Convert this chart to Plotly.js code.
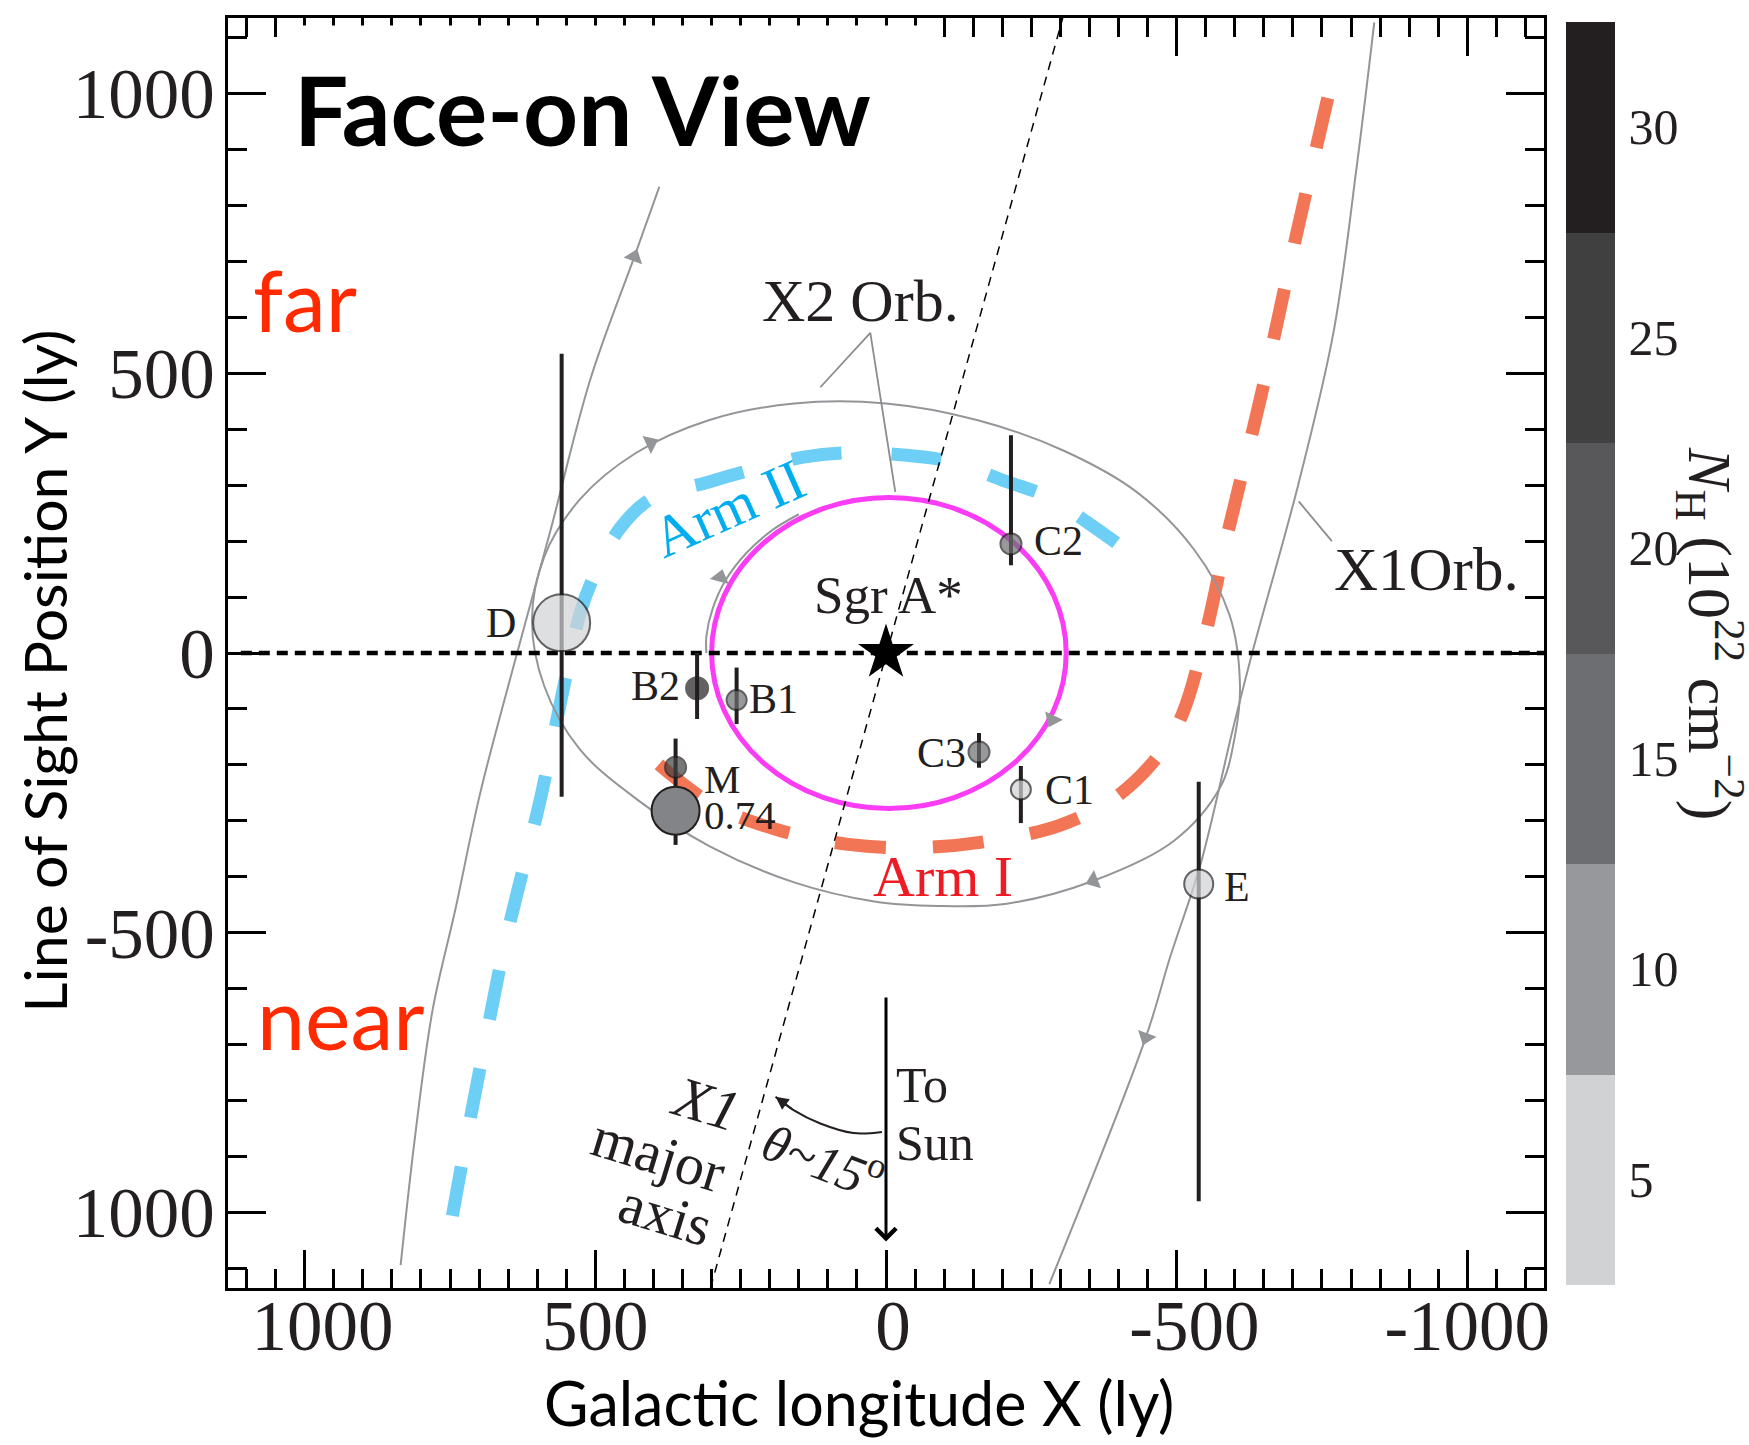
<!DOCTYPE html>
<html><head><meta charset="utf-8">
<script src="https://cdn.plot.ly/plotly-3.0.1.min.js"></script>
<style>html,body{margin:0;padding:0;background:#fff;}#chart{width:1749px;height:1445px;}</style>
</head><body><div id="chart"></div>
<script>
// ---------------- values ----------------
const sourceNames = ['D', 'B2', 'B1', 'M', 'C2', 'C3', 'C1', 'E'];
const sourceX = [558, 325, 257, 362, -215, -160, -232, -538];
const sourceY = [54, -63, -84, -204, 195, -177, -244, -413];
const sourceErrPlus = [481, 63, 58, 51, 194, 34, 42, 183];
const sourceErrMinus = [311, 55, 43, 35, 38, 28, 60, 567];
const sourceNH = [5, 30, 15, 25, 17, 15, 5, 5];

const cloud074Name = ['0.74'];
const cloud074X = [362];
const cloud074Y = [-282];
const cloud074ErrPlus = [43];
const cloud074ErrMinus = [61];

const sgrAX = [0];
const sgrAY = [0];

const arm1X = [-760, -702, -645, -587, -549, -510, -472, -395, -299, -165, -50, 65, 180, 296, 392];
const arm1Y = [992, 729, 459, 210, 31, -109, -179, -258, -308, -338, -348, -342, -318, -272, -198];

const arm2X = [746, 719, 689, 658, 629, 595, 567, 550, 526, 504, 457, 402, 311, 233, 142, 58, -30, -116, -200, -279, -350, -396];
const arm2Y = [-1006, -853, -692, -531, -406, -263, -123, -39, 72, 134, 224, 277, 304, 327, 350, 358, 354, 341, 309, 279, 231, 197];

const x1OrbLeftX = [835, 811, 780, 741, 698, 638, 577, 509, 433, 390];
const x1OrbLeftY = [-1094, -871, -638, -459, -250, -13, 220, 488, 708, 833];
const x1OrbRightX = [-840, -810, -770, -709, -630, -597, -541, -489, -447, -281];
const x1OrbRightY = [1127, 871, 574, 300, 0, -135, -378, -543, -687, -1128];

const x2OrbX = [-609, -600, -575, -495, -357, -208, -90, 20, 158, 304, 428, 527, 588, 609, 588, 527, 431, 305, 158, 0, -158, -305, -431, -530, -591, -609];
const x2OrbY = [-59, -150, -240, -336, -407, -448, -452, -444, -410, -345, -262, -172, -59, 59, 172, 274, 357, 416, 446, 446, 416, 362, 288, 185, 68, -59];

const x2InnerArcX = [309, 309, 298, 276, 239, 195, 150];
const x2InnerArcY = [0, 30, 80, 130, 180, 220, 248];

const x2EllipseX = [300, -310];
const x2EllipseY = [-278, 278];

const majorAxisX = [302, -304];
const majorAxisY = [-1135, 1135];
const losLineX = [1110, -1132];
const losLineY = [0, 0];

const sunArrowX = [0, 0];
const sunArrowY = [-613, -1052];
const thetaArcX = [7, 56, 113, 159, 190];
const thetaArcY = [-856, -858, -841, -817, -793];

const x2PointerX = [113, 27, -16];
const x2PointerY = [475, 572, 288];
const x1PointerX = [-710, -767];
const x1PointerY = [271, 200];

const orbitArrowX = [405, -357, 285, -286, 433, -447];
const orbitArrowY = [375, -407, 135, -119, 708, -687];
const orbitArrowDir = [65, 249, 15, 205, 20, 200];

const nhTickVals = [5, 10, 15, 20, 25, 30];
const xTickVals = [1000, 500, 0, -500, -1000];
const xTickText = ['\u00a0\u00a01000', '500', '\u20090', '\u00a0\u00a0-500', '-1000'];
const yTickVals = [-1000, -500, 0, 500, 1000];
const yTickText = ['1000', '-500', '0', '500', '1000'];

// ---------------- styling ----------------
const SERIF = 'Liberation Serif, Times New Roman, serif';
const SANS = 'Lato, Open Sans, sans-serif';
const INK = '#231f20';
const GREY = '#939598';
const bandColors = ['#d1d2d4', '#97989b', '#6d6e71', '#58585a', '#404041', '#231f20'];
const cmin = 2.5, cmax = 32.5;
const colorscale = [];
bandColors.forEach((c, i) => { colorscale.push([i / 6, c]); colorscale.push([(i + 1) / 6, c]); });
const markerSize = {D: 57, B2: 22, B1: 20, M: 21, C2: 21, C3: 21, C1: 20, E: 29};

const traces = [];
traces.push({x: arm2X, y: arm2Y, mode: 'lines', line: {color: '#6dcff6', width: 13, dash: '50px,50px', shape: 'spline'}, hoverinfo: 'skip'});
traces.push({x: arm1X, y: arm1Y, mode: 'lines', line: {color: '#f27656', width: 13, dash: '51px,47px', shape: 'spline'}, hoverinfo: 'skip'});
traces.push({x: x1OrbLeftX, y: x1OrbLeftY, mode: 'lines', line: {color: GREY, width: 2, shape: 'spline'}, hoverinfo: 'skip'});
traces.push({x: x1OrbRightX, y: x1OrbRightY, mode: 'lines', line: {color: GREY, width: 2, shape: 'spline'}, hoverinfo: 'skip'});
traces.push({x: x2OrbX, y: x2OrbY, mode: 'lines', line: {color: GREY, width: 2, shape: 'spline'}, hoverinfo: 'skip'});
traces.push({x: x2InnerArcX, y: x2InnerArcY, mode: 'lines', line: {color: GREY, width: 2, shape: 'spline'}, hoverinfo: 'skip'});
traces.push({x: x2PointerX, y: x2PointerY, mode: 'lines', line: {color: '#8a8c8e', width: 1.8}, hoverinfo: 'skip'});
traces.push({x: x1PointerX, y: x1PointerY, mode: 'lines', line: {color: '#8a8c8e', width: 1.8}, hoverinfo: 'skip'});
traces.push({x: losLineX, y: losLineY, mode: 'lines', line: {color: '#000', width: 4.5, dash: '11px,7px'}, hoverinfo: 'skip'});
traces.push({x: majorAxisX, y: majorAxisY, mode: 'lines', line: {color: '#000', width: 1.5, dash: '9px,7px'}, hoverinfo: 'skip'});
traces.push({x: thetaArcX, y: thetaArcY, mode: 'lines', line: {color: INK, width: 2, shape: 'spline'}, hoverinfo: 'skip'});
traces.push({x: orbitArrowX, y: orbitArrowY, mode: 'markers', marker: {symbol: 'triangle-up', size: 17, color: GREY, angle: orbitArrowDir, line: {width: 0}}, hoverinfo: 'skip'});
traces.push({x: sgrAX, y: sgrAY, mode: 'markers', marker: {symbol: 'star', size: 42, color: '#000', line: {width: 0}}, name: 'Sgr A*'});
traces.push({
  x: cloud074X, y: cloud074Y, mode: 'markers', name: '0.74',
  error_y: {type: 'data', symmetric: false, array: cloud074ErrPlus, arrayminus: cloud074ErrMinus, color: INK, thickness: 4, width: 0},
  marker: {size: 48, color: '#838487', line: {color: INK, width: 2}}
});
traces.push({
  x: sourceX, y: sourceY, text: sourceNames, mode: 'markers', name: 'sources',
  error_y: {type: 'data', symmetric: false, array: sourceErrPlus, arrayminus: sourceErrMinus, color: INK, thickness: 4, width: 0},
  marker: {
    size: sourceNames.map(n => markerSize[n]), color: sourceNH, colorscale: colorscale, cmin: cmin, cmax: cmax,
    line: {color: INK, width: 2}, showscale: true,
    colorbar: {x: 1.0167, xanchor: 'left', xpad: 0, y: 0.5, yanchor: 'middle', ypad: 0, thickness: 49, len: 1263, lenmode: 'pixels',
      outlinewidth: 0, tickvals: nhTickVals, ticks: 'outside', ticklen: 4, tickcolor: 'rgba(0,0,0,0)',
      tickfont: {family: SERIF, size: 50, color: INK}}
  }
});

function txt(text, x, y, size, opts) {
  return Object.assign({text: text, x: x, y: y, xref: 'x', yref: 'y', showarrow: false,
    font: {family: SERIF, size: size, color: INK}, xanchor: 'center', yanchor: 'middle'}, opts || {});
}
const annotations = [
  txt('Face-on View', 1022, 974, 96, {xanchor: 'left', font: {family: SANS, size: 96, color: '#000', weight: 'bold'}}),
  txt('far', 1092, 633, 86, {xanchor: 'left', font: {family: SANS, size: 86, color: '#ff2a00'}}),
  txt('near', 1086, -650, 86, {xanchor: 'left', font: {family: SANS, size: 86, color: '#ff2a00'}}),
  txt('X2 Orb.', 44, 629, 60),
  txt('X1Orb.', -930, 150, 61),
  txt('Sgr A*', -5, 104, 53),
  txt('Arm II', 271, 258, 58, {textangle: -24, font: {family: SERIF, size: 58, color: '#00aeef'}}),
  txt('Arm I', -98, -400, 58, {font: {family: SERIF, size: 58, color: '#ed1c24'}}),
  txt('D', 662, 54, 42),
  txt('B2', 396, -59, 42),
  txt('B1', 193, -83, 42),
  txt('M', 282, -225, 41, {height: 30}),
  txt('0.74', 252, -290, 41, {height: 30}),
  txt('C2', -297, 200, 42),
  txt('C3', -96, -179, 42),
  txt('C1', -316, -245, 42),
  txt('E', -604, -419, 42),
  txt('To', -14, -773, 50, {xanchor: 'left'}),
  txt('Sun', -14, -876, 50, {xanchor: 'left'}),
  txt('<i>X1</i>', 310, -805, 58, {textangle: 17}),
  txt('major', 392, -897, 58, {textangle: 17}),
  txt('axis', 380, -1003, 58, {textangle: 17}),
  txt('<i>θ~15</i><sup>o</sup>', 107, -903, 52, {textangle: 21}),
  {x: sunArrowX[1], y: sunArrowY[1], ax: sunArrowX[0], ay: sunArrowY[0], xref: 'x', yref: 'y', axref: 'x', ayref: 'y',
   text: '', showarrow: true, arrowhead: 4, arrowsize: 1.3, arrowwidth: 3, arrowcolor: '#000'},
  {x: thetaArcX[4], y: thetaArcY[4], ax: thetaArcX[3], ay: thetaArcY[3], xref: 'x', yref: 'y', axref: 'x', ayref: 'y',
   text: '', showarrow: true, arrowhead: 2, arrowsize: 1.3, arrowwidth: 2, arrowcolor: INK},
  {text: 'Galactic longitude X (ly)', x: 0.4794, y: -0.0898, xref: 'paper', yref: 'paper', showarrow: false,
   font: {family: SANS, size: 61, color: '#000'}, xanchor: 'center', yanchor: 'middle'},
  {text: 'Line of Sight Position Y (ly)', x: -0.1397, y: 0.4854, xref: 'paper', yref: 'paper', showarrow: false, textangle: -90,
   font: {family: SANS, size: 59, color: '#000'}, xanchor: 'center', yanchor: 'middle'},
  {text: '<i>N</i><sub>H</sub> (10<sup>22</sup> cm<sup>−2</sup>)', x: 1.1269, y: 0.5157, xref: 'paper', yref: 'paper',
   showarrow: false, textangle: 90, font: {family: SERIF, size: 62, color: INK}, xanchor: 'center', yanchor: 'middle'}
];

// colour band separators on the colour bar
const cbBottom = 0.5 - (1263 / 1270) / 2, cbSpan = 1263 / 1270;
const shapes = [
  {type: 'circle', xref: 'x', yref: 'y', x0: x2EllipseX[0], x1: x2EllipseX[1], y0: x2EllipseY[0], y1: x2EllipseY[1],
   line: {color: '#fa3cf5', width: 5}, layer: 'below'},
  {type: 'rect', xref: 'paper', yref: 'paper', x0: 0.0471, x1: 0.5334, y0: 0.9665, y1: 0.9941,
   fillcolor: '#fff', line: {width: 0}, layer: 'above'}
];
[7.5, 12.5, 17.5, 22.5, 27.5].forEach(v => {
  const yy = cbBottom + (v - cmin) / (cmax - cmin) * cbSpan;
  shapes.push({type: 'line', xref: 'paper', yref: 'paper', x0: 1.0167, x1: 1.0540, y0: yy, y1: yy, line: {color: '#fff', width: 2}, layer: 'above'});
});

const minorX = [], minorY = [];
for (let v = -1100; v <= 1100; v += 50) minorX.push(v);
for (let v = -1100; v <= 1100; v += 100) minorY.push(v);

const axisCommon = {
  showgrid: false, zeroline: false, showline: true, linewidth: 3, linecolor: '#000', mirror: 'ticks',
  ticks: 'inside', ticklen: 38, tickwidth: 3, tickcolor: '#000', tickmode: 'array',
  tickfont: {family: SERIF, size: 71, color: INK}
};
const layout = {
  width: 1749, height: 1445, margin: {l: 228, r: 205, t: 18, b: 157},
  paper_bgcolor: '#fff', plot_bgcolor: '#fff', showlegend: false,
  xaxis: Object.assign({}, axisCommon, {range: [1132, -1132], tickvals: xTickVals, ticktext: xTickText,
    minor: {tickmode: 'array', tickvals: minorX, ticks: 'inside', ticklen: 19, tickwidth: 3, tickcolor: '#000', showgrid: false},
    ticklabelstandoff: -26}),
  yaxis: Object.assign({}, axisCommon, {range: [-1135, 1135], tickvals: yTickVals, ticktext: yTickText,
    minor: {tickmode: 'array', tickvals: minorY, ticks: 'inside', ticklen: 19, tickwidth: 3, tickcolor: '#000', showgrid: false},
    ticklabelstandoff: -4}),
  annotations: annotations,
  shapes: shapes
};
Plotly.newPlot('chart', traces, layout, {displayModeBar: false, staticPlot: true});
</script></body></html>
